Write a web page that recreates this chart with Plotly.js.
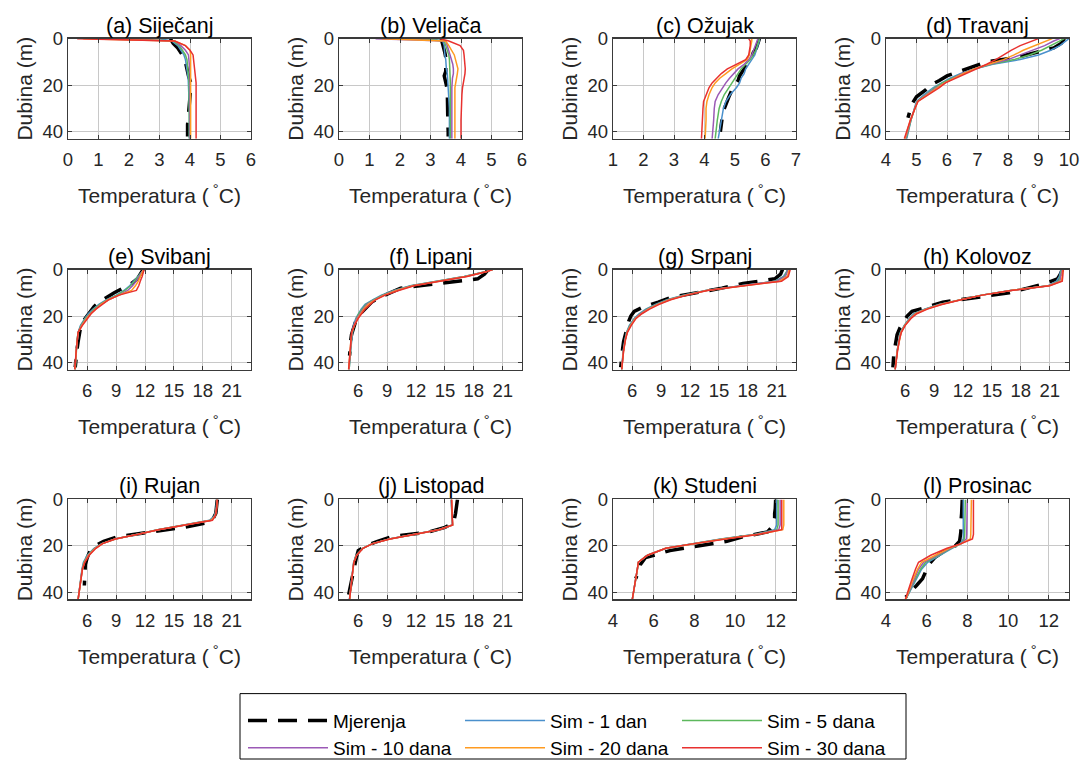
<!DOCTYPE html>
<html><head><meta charset="utf-8">
<script src="https://cdn.plot.ly/plotly-3.0.1.min.js"></script>
<style>html,body{margin:0;padding:0;background:#fff}#chart{width:1081px;height:767px}</style>
</head><body><div id="chart"></div>
<script>
// ---------- DATA ----------
const months = ["(a) Siječanj","(b) Veljača","(c) Ožujak","(d) Travanj","(e) Svibanj","(f) Lipanj",
                "(g) Srpanj","(h) Kolovoz","(i) Rujan","(j) Listopad","(k) Studeni","(l) Prosinac"];
const seriesNames = ["Mjerenja","Sim - 1 dan","Sim - 5 dana","Sim - 10 dana","Sim - 20 dana","Sim - 30 dana"];
const simDepth  = [0,1,3,5,7,9,11,13,15,17,19,21,24,27,30,35,43];
const measDepth = [0,2,4,6,8,10,12,14,16,18,20,22,25,28,31,34,37,40,42];

const meas = [
 [3.35,3.45,3.6,3.7,3.8,3.85,3.88,3.9,3.95,4.0,4.05,4.02,4.0,3.98,3.95,3.93,3.92,3.92,3.92],
 [3.35,3.4,3.45,3.47,3.5,3.5,3.5,3.5,3.45,3.5,3.52,3.55,3.55,3.55,3.55,3.57,3.57,3.58,3.58],
 [5.8,5.75,5.7,5.6,5.55,5.45,5.35,5.25,5.15,5.1,5.0,4.9,4.8,4.7,4.62,4.58,4.55,4.52,null],
 [9.85,9.75,9.5,8.9,8.3,7.3,6.85,6.4,6.0,5.75,5.45,5.3,5.0,4.85,4.78,4.72,null,null,null],
 [11.8,11.5,11.2,10.6,9.6,8.8,8.0,7.2,6.7,6.3,6.0,5.6,5.3,5.15,5.05,4.95,4.9,4.8,4.75],
 [19.5,19.1,18.4,14.6,10.4,9.3,8.2,7.4,6.9,6.4,6.0,5.75,5.5,5.3,5.2,5.15,5.1,null,null],
 [21.6,21.4,20.8,17.5,15.3,12.7,10.0,8.7,7.2,6.2,5.85,5.65,5.45,5.25,5.1,5.0,4.9,4.85,4.8],
 [22.3,22.1,21.8,20.5,18.7,16.8,13.4,9.9,8.4,6.7,6.2,5.9,5.45,5.15,5.0,4.9,4.8,4.75,4.72],
 [19.5,19.45,19.4,19.35,19.1,18.5,16.0,12.7,9.2,7.7,6.8,6.3,6.0,5.8,5.75,5.72,5.7,null,null],
 [16.3,16.25,16.2,16.1,16.0,15.9,15.0,13.3,9.5,8.0,6.8,6.0,5.8,5.65,5.5,5.35,5.2,5.1,4.95],
 [12.0,12.0,11.98,11.95,11.95,11.9,11.8,11.6,10.4,9.6,8.1,6.8,5.6,5.35,5.25,5.12,null,null,null],
 [7.75,7.75,7.72,7.72,7.7,7.7,7.7,7.68,7.65,7.62,7.4,6.9,6.4,6.1,5.95,5.8,5.5,5.2,4.97]
];
const sim1 = [
 [3.0,3.4,3.6,3.7,3.8,3.85,3.88,3.9,3.92,3.94,3.95,3.96,3.97,3.97,3.98,3.98,3.98],
 [3.0,3.4,3.45,3.45,3.47,3.5,3.5,3.52,3.55,3.56,3.58,3.6,3.6,3.61,3.62,3.62,3.62],
 [5.8,5.8,5.75,5.7,5.65,5.55,5.45,5.35,5.3,5.2,5.15,5.05,4.85,4.7,4.62,4.55,4.45],
 [10.0,9.9,9.7,9.4,9.0,8.4,7.5,6.9,6.45,6.1,5.8,5.55,5.25,5.0,4.93,4.82,4.68],
 [11.9,11.7,11.3,10.9,10.4,9.8,9.0,8.0,7.2,6.6,6.1,5.75,5.3,5.05,4.95,4.85,4.75],
 [19.95,19.2,17.0,14.3,11.4,9.7,8.4,7.5,6.7,6.3,6.0,5.75,5.5,5.4,5.3,5.2,5.05],
 [22.1,22.0,21.7,20.8,17.3,13.6,11.3,9.6,8.4,7.4,6.7,6.2,5.7,5.4,5.25,5.05,4.9],
 [22.2,22.1,22.0,21.7,20.8,16.9,13.9,11.6,9.5,8.0,6.9,6.4,5.9,5.5,5.35,5.15,4.95],
 [19.45,19.45,19.4,19.35,19.2,18.7,16.1,13.3,11.2,8.9,7.5,6.7,6.0,5.6,5.45,5.3,5.05],
 [15.65,15.65,15.67,15.7,15.72,15.75,15.78,14.3,11.9,9.2,7.45,6.45,5.8,5.52,5.43,5.28,5.08],
 [12.05,12.05,12.05,12.05,12.05,12.05,12.05,11.95,11.0,9.3,7.9,6.6,5.7,5.25,5.2,5.1,4.95],
 [7.8,7.8,7.8,7.8,7.8,7.8,7.8,7.8,7.8,7.8,7.65,7.25,6.7,6.05,5.75,5.45,4.97]
];
const sim5 = [
 [2.0,3.45,3.65,3.75,3.85,3.9,3.92,3.94,3.95,3.96,3.97,3.97,3.98,3.98,3.98,3.98,3.98],
 [2.5,3.45,3.5,3.55,3.6,3.62,3.63,3.64,3.64,3.65,3.65,3.65,3.65,3.65,3.65,3.65,3.65],
 [5.8,5.78,5.73,5.68,5.6,5.5,5.35,5.2,5.1,5.0,4.9,4.8,4.65,4.55,4.48,4.42,4.35],
 [9.85,9.7,9.45,9.1,8.7,8.2,7.45,6.9,6.5,6.15,5.85,5.6,5.3,5.02,4.94,4.82,4.66],
 [11.9,11.7,11.35,11.0,10.5,9.9,9.1,8.1,7.3,6.7,6.2,5.8,5.35,5.05,4.95,4.85,4.75],
 [19.95,19.2,17.0,14.4,11.5,9.8,8.5,7.6,6.8,6.4,6.05,5.8,5.55,5.38,5.3,5.2,5.05],
 [22.15,22.05,21.8,20.9,17.35,13.65,11.4,9.7,8.5,7.5,6.8,6.25,5.75,5.42,5.27,5.07,4.9],
 [22.25,22.15,22.1,21.9,20.85,16.92,13.92,11.65,9.55,8.05,7.0,6.45,5.92,5.52,5.36,5.16,4.95],
 [19.47,19.47,19.42,19.37,19.25,18.8,16.15,13.32,11.22,8.9,7.52,6.75,6.05,5.65,5.47,5.32,5.05],
 [15.66,15.66,15.68,15.71,15.73,15.76,15.79,14.32,11.92,9.22,7.46,6.46,5.81,5.53,5.44,5.29,5.09],
 [12.12,12.12,12.12,12.12,12.12,12.12,12.12,12.05,11.05,9.35,7.92,6.6,5.7,5.25,5.2,5.1,4.95],
 [7.9,7.9,7.9,7.9,7.9,7.9,7.9,7.88,7.87,7.85,7.7,7.2,6.6,5.95,5.7,5.4,4.97]
];
const sim10 = [
 [1.0,3.5,3.7,3.85,3.95,3.97,3.98,3.99,4.0,4.0,4.0,4.0,4.0,4.0,4.0,4.0,4.0],
 [1.2,3.5,3.55,3.6,3.65,3.7,3.73,3.75,3.75,3.72,3.7,3.7,3.7,3.7,3.7,3.7,3.7],
 [5.75,5.72,5.68,5.62,5.55,5.45,5.3,5.1,4.95,4.82,4.7,4.6,4.45,4.35,4.32,4.3,4.25],
 [9.7,9.5,9.2,8.8,8.4,8.0,7.4,6.9,6.5,6.2,5.9,5.65,5.33,5.03,4.94,4.81,4.64],
 [11.85,11.7,11.4,11.1,10.7,10.2,9.3,8.2,7.4,6.8,6.3,5.9,5.4,5.05,4.95,4.85,4.72],
 [19.95,19.2,17.1,14.5,11.6,9.9,8.6,7.7,6.9,6.5,6.15,5.85,5.55,5.35,5.28,5.18,5.02],
 [22.2,22.1,21.9,21.0,17.4,13.7,11.5,9.8,8.6,7.6,6.85,6.3,5.8,5.45,5.28,5.08,4.9],
 [22.3,22.25,22.2,22.05,20.9,16.95,13.95,11.7,9.6,8.1,7.05,6.5,5.95,5.55,5.38,5.17,4.95],
 [19.48,19.48,19.43,19.38,19.27,18.85,16.2,13.35,11.25,8.9,7.55,6.8,6.1,5.7,5.48,5.33,5.05],
 [15.67,15.67,15.69,15.71,15.74,15.77,15.79,14.35,11.95,9.25,7.48,6.48,5.83,5.54,5.44,5.29,5.09],
 [12.22,12.22,12.22,12.22,12.22,12.22,12.22,12.15,11.1,9.4,7.95,6.6,5.7,5.25,5.2,5.1,4.95],
 [8.0,8.0,8.0,8.0,8.0,8.0,8.0,7.98,7.97,7.95,7.7,7.15,6.5,5.85,5.6,5.35,4.97]
];
const sim20 = [
 [0.5,3.5,3.85,4.0,4.02,4.02,4.02,4.02,4.02,4.02,4.02,4.02,4.02,4.02,4.02,4.02,4.02],
 [1.4,3.5,3.6,3.7,3.78,3.82,3.86,3.9,3.88,3.85,3.82,3.8,3.8,3.8,3.8,3.8,3.8],
 [5.55,5.55,5.52,5.5,5.47,5.4,5.15,4.9,4.7,4.5,4.35,4.25,4.15,4.08,4.05,4.05,4.02],
 [9.45,9.25,8.9,8.5,8.2,7.85,7.35,6.9,6.55,6.22,5.93,5.7,5.37,5.04,4.95,4.8,4.62],
 [11.85,11.75,11.5,11.3,11.0,10.6,9.3,8.2,7.45,6.85,6.35,5.95,5.45,5.05,4.95,4.85,4.72],
 [19.95,19.25,17.2,14.6,11.7,10.0,8.7,7.75,7.05,6.6,6.25,5.95,5.6,5.33,5.25,5.15,5.0],
 [22.3,22.25,22.1,21.3,17.45,13.75,11.6,9.9,8.7,7.7,6.95,6.35,5.85,5.48,5.3,5.1,4.9],
 [22.35,22.35,22.3,22.2,20.95,16.97,13.97,11.75,9.7,8.2,7.1,6.55,5.97,5.57,5.4,5.18,4.95],
 [19.5,19.5,19.45,19.4,19.3,18.9,16.25,13.38,11.28,8.9,7.58,6.85,6.15,5.72,5.5,5.34,5.05],
 [15.69,15.69,15.7,15.72,15.75,15.78,15.8,14.38,11.98,9.28,7.49,6.49,5.84,5.55,5.45,5.3,5.1],
 [12.4,12.4,12.4,12.4,12.4,12.4,12.4,12.35,11.15,9.45,7.98,6.6,5.7,5.25,5.2,5.1,4.95],
 [8.2,8.2,8.2,8.2,8.2,8.2,8.2,8.18,8.17,8.15,7.7,7.1,6.4,5.75,5.55,5.3,4.97]
];
const sim30 = [
 [0.3,3.5,3.85,4.0,4.1,4.12,4.14,4.15,4.17,4.18,4.2,4.2,4.2,4.2,4.2,4.2,4.2],
 [3.3,3.6,3.97,4.08,4.1,4.12,4.13,4.14,4.13,4.1,4.07,4.05,4.03,4.02,4.01,4.0,4.0],
 [5.45,5.5,5.5,5.48,5.45,5.35,5.05,4.75,4.55,4.4,4.25,4.15,4.05,3.97,3.95,3.93,3.9],
 [9.0,8.8,8.4,8.1,7.85,7.6,7.3,6.95,6.6,6.25,5.95,5.75,5.4,5.05,4.95,4.8,4.6],
 [11.9,11.85,11.7,11.5,11.35,11.1,9.3,8.2,7.5,6.9,6.4,6.0,5.5,5.05,4.95,4.85,4.7],
 [19.95,19.3,17.3,14.7,11.8,10.2,8.8,7.8,7.2,6.7,6.35,6.0,5.6,5.3,5.25,5.15,5.0],
 [22.4,22.35,22.2,21.5,17.5,13.8,11.7,10.0,8.8,7.8,7.0,6.4,5.9,5.5,5.3,5.1,4.9],
 [22.4,22.4,22.35,22.3,21.0,17.0,14.0,11.8,9.8,8.3,7.2,6.6,6.0,5.6,5.4,5.2,4.95],
 [19.5,19.5,19.45,19.4,19.3,19.0,16.3,13.4,11.3,8.9,7.6,6.9,6.2,5.75,5.5,5.35,5.05],
 [15.7,15.7,15.7,15.72,15.75,15.78,15.8,14.4,12.0,9.3,7.5,6.5,5.85,5.55,5.45,5.3,5.1],
 [12.3,12.3,12.3,12.3,12.3,12.3,12.3,12.3,11.2,9.5,8.0,6.6,5.7,5.25,5.2,5.1,4.95],
 [8.3,8.3,8.3,8.3,8.3,8.3,8.3,8.3,8.3,8.25,7.7,7.0,6.2,5.6,5.45,5.25,4.95]
];

// ---------- STYLE / LAYOUT ----------
const W = 1081, H = 767;
const FONT = "Liberation Sans, Arial, Helvetica, sans-serif";
const TXT = "#262626";
const simColors = ["#4a90cc","#5cb85c","#9b59b6","#ff9b21","#e8312f"];
const simData = [sim1, sim5, sim10, sim20, sim30];
const colLeft = [68, 339, 613, 886];
const panelW = 183;
const rowTop = [39, 272, 504];
const panelH = 101;
const xRanges = [[0,6],[0,6],[1,7],[4,10],[4,23],[4,23],[4,23],[4,23],[4,23],[4,23],[4,13],[4,13]];
const xTicks = [[0,1,2,3,4,5,6],[0,1,2,3,4,5,6],[1,2,3,4,5,6,7],[4,5,6,7,8,9,10],
  [6,9,12,15,18,21],[6,9,12,15,18,21],[6,9,12,15,18,21],[6,9,12,15,18,21],
  [6,9,12,15,18,21],[6,9,12,15,18,21],[4,6,8,10,12],[4,6,8,10,12]];

const traces = [];
const legendBase = {orientation: "h", x: 243/W, xanchor: "left", yanchor: "top",
  font: {family: FONT, size: 19, color: "#000"}, itemwidth: 80, entrywidth: 122,
  bgcolor: "rgba(0,0,0,0)", tracegroupgap: 0, traceorder: "normal"};
const layout = {
  width: W, height: H,
  margin: {l:0, r:0, t:0, b:0},
  paper_bgcolor: "#fff", plot_bgcolor: "#fff",
  font: {family: FONT, color: TXT},
  annotations: [], shapes: [],
  legend: Object.assign({}, legendBase, {y: 1 - 708/H}),
  legend2: Object.assign({}, legendBase, {y: 1 - 736/H})
};

for (let i = 0; i < 12; i++) {
  const r = Math.floor(i / 4), c = i % 4;
  const k = i === 0 ? "" : String(i + 1);
  const x0 = colLeft[c], y0 = rowTop[r];
  layout["xaxis" + k] = {
    domain: [x0 / W, (x0 + panelW) / W], anchor: "y" + k,
    range: xRanges[i], tickvals: xTicks[i], ticktext: xTicks[i].map(String),
    showgrid: true, gridcolor: "#c8c8c8", gridwidth: 1, zeroline: false,
    showline: true, linecolor: "#3a3a3a", linewidth: 1.2, mirror: "ticks",
    ticks: "inside", ticklen: 4, tickcolor: "#3a3a3a", ticklabelstandoff: 4,
    tickfont: {family: FONT, size: 18.5, color: TXT},
    title: {text: "Temperatura (<sup> °</sup>C)", font: {family: FONT, size: 21, color: TXT}, standoff: 19},
    fixedrange: true
  };
  layout["yaxis" + k] = {
    domain: [1 - (y0 + panelH) / H, 1 - y0 / H], anchor: "x" + k,
    range: [43, 0], tickvals: [0, 20, 40], ticktext: ["0","20","40"],
    showgrid: true, gridcolor: "#c8c8c8", gridwidth: 1, zeroline: false,
    showline: true, linecolor: "#3a3a3a", linewidth: 1.2, mirror: "ticks",
    ticks: "inside", ticklen: 4, tickcolor: "#3a3a3a",
    tickfont: {family: FONT, size: 18.5, color: TXT},
    title: {text: "Dubina (m)", font: {family: FONT, size: 21, color: TXT}, standoff: 4},
    fixedrange: true
  };
  layout.annotations.push({
    text: months[i], xref: "paper", yref: "paper",
    x: (x0 + panelW / 2) / W, y: 1 - (y0 + 1) / H, xanchor: "center", yanchor: "bottom",
    showarrow: false, font: {family: FONT, size: 21.5, color: "#000"}
  });

  traces.push({
    type: "scatter", mode: "lines", x: meas[i], y: measDepth,
    xaxis: "x" + k, yaxis: "y" + k, name: seriesNames[0],
    line: {color: "#000", width: 3.5, dash: "19px,11px"}, connectgaps: false,
    showlegend: i === 0, legend: "legend", hoverinfo: "skip"
  });
  for (let s = 0; s < 5; s++) {
    traces.push({
      type: "scatter", mode: "lines", x: simData[s][i], y: simDepth,
      xaxis: "x" + k, yaxis: "y" + k, name: seriesNames[s + 1],
      line: {color: simColors[s], width: 1.5},
      showlegend: i === 0, legend: s < 2 ? "legend" : "legend2", hoverinfo: "skip"
    });
  }
}
layout.shapes.push({type: "rect", xref: "paper", yref: "paper",
  x0: 240/W, x1: 906/W, y0: 1 - 766/H, y1: 1 - 700/H,
  line: {color: "#000", width: 1}, fillcolor: "rgba(0,0,0,0)"});

Plotly.newPlot("chart", traces, layout, {displayModeBar: false, staticPlot: true});
</script></body></html>
